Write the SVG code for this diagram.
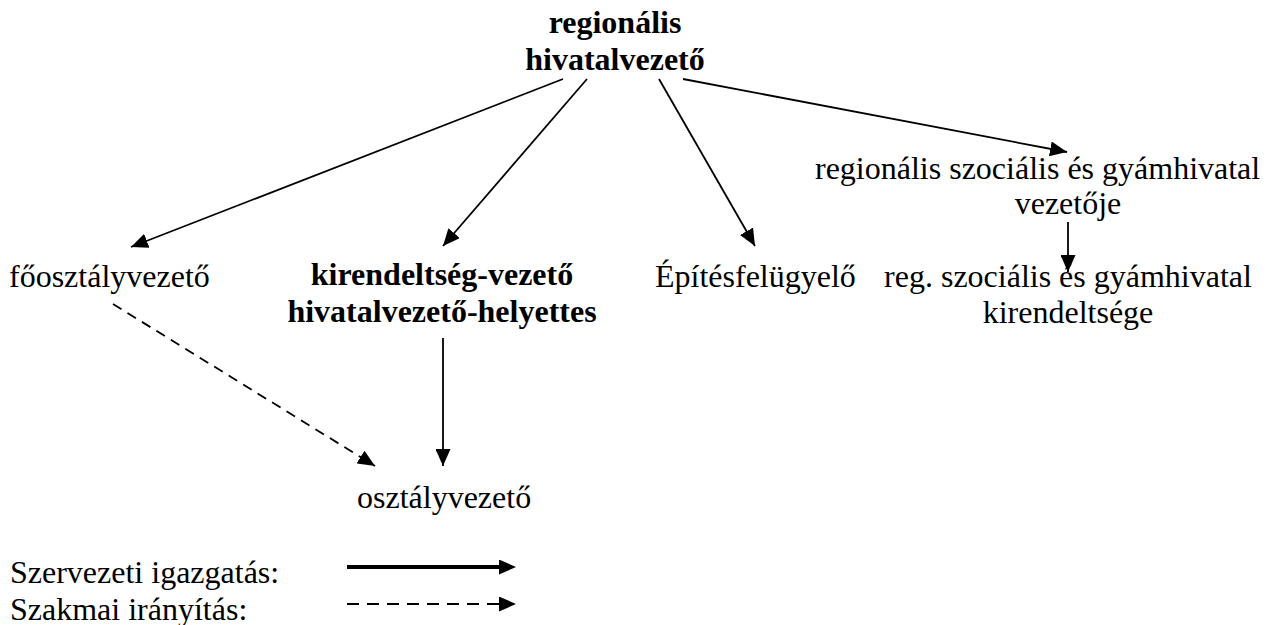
<svg xmlns="http://www.w3.org/2000/svg" width="1271" height="625" viewBox="0 0 1271 625">
<style>
text{font-family:"Liberation Serif","Times New Roman",serif;font-size:32px;fill:#000}
.b{font-weight:bold}
.c{text-anchor:middle}
.ln{stroke:#000;stroke-width:1.8;fill:none}
.dash{stroke-dasharray:10 7}
</style>
<defs>
<marker id="ah" markerUnits="userSpaceOnUse" markerWidth="17" markerHeight="15" refX="17" refY="7.5" orient="auto">
<path d="M0,0 L17,7.5 L0,15 z" fill="#000"/>
</marker>
<marker id="ahl" markerUnits="userSpaceOnUse" markerWidth="17" markerHeight="15" refX="0" refY="7.5" orient="auto">
<path d="M0,0 L17,7.5 L0,15 z" fill="#000"/>
</marker>
</defs>
<rect width="1271" height="625" fill="#fff"/>
<g id="connectors">
<line class="ln" x1="563" y1="79" x2="131" y2="247" marker-end="url(#ah)"/>
<line class="ln" x1="587" y1="79" x2="443" y2="246" marker-end="url(#ah)"/>
<line class="ln" x1="659" y1="79" x2="755" y2="246" marker-end="url(#ah)"/>
<line class="ln" x1="683" y1="79" x2="1067" y2="152" marker-end="url(#ah)"/>
<line class="ln" x1="1068" y1="222" x2="1068" y2="272" marker-end="url(#ah)"/>
<line class="ln" x1="443" y1="338" x2="443" y2="466" marker-end="url(#ah)"/>
<line class="ln dash" x1="113" y1="304" x2="375" y2="466" marker-end="url(#ah)"/>
</g>
<g id="n-regionalis-hivatalvezeto"><text class="b c" x="615" y="33">regionális</text><text class="b c" x="615" y="70">hivatalvezető</text></g>
<g id="n-foosztalyvezeto"><text x="9" y="287">főosztályvezető</text></g>
<g id="n-kirendeltseg-vezeto"><text class="b c" x="442" y="285">kirendeltség-vezető</text><text class="b c" x="442" y="322">hivatalvezető-helyettes</text></g>
<g id="n-epitesfelugyelo"><text x="655" y="287">Építésfelügyelő</text></g>
<g id="n-szoc-gyamhivatal-vezeto"><text x="815" y="179">regionális szociális és gyámhivatal</text><text class="c" x="1068" y="214">vezetője</text></g>
<g id="n-szoc-gyamhivatal-kirendeltseg"><text class="c" x="1068" y="287">reg. szociális és gyámhivatal</text><text class="c" x="1068" y="323">kirendeltsége</text></g>
<g id="n-osztalyvezeto"><text x="357" y="508">osztályvezető</text></g>
<g id="legend">
<text x="10" y="583">Szervezeti igazgatás:</text>
<text x="10" y="620">Szakmai irányítás:</text>
<line x1="347" y1="567" x2="499" y2="567" stroke="#000" stroke-width="4" marker-end="url(#ahl)"/>
<line x1="347" y1="604" x2="499" y2="604" stroke="#000" stroke-width="2" stroke-dasharray="12 8" marker-end="url(#ahl)"/>
</g>
</svg>
